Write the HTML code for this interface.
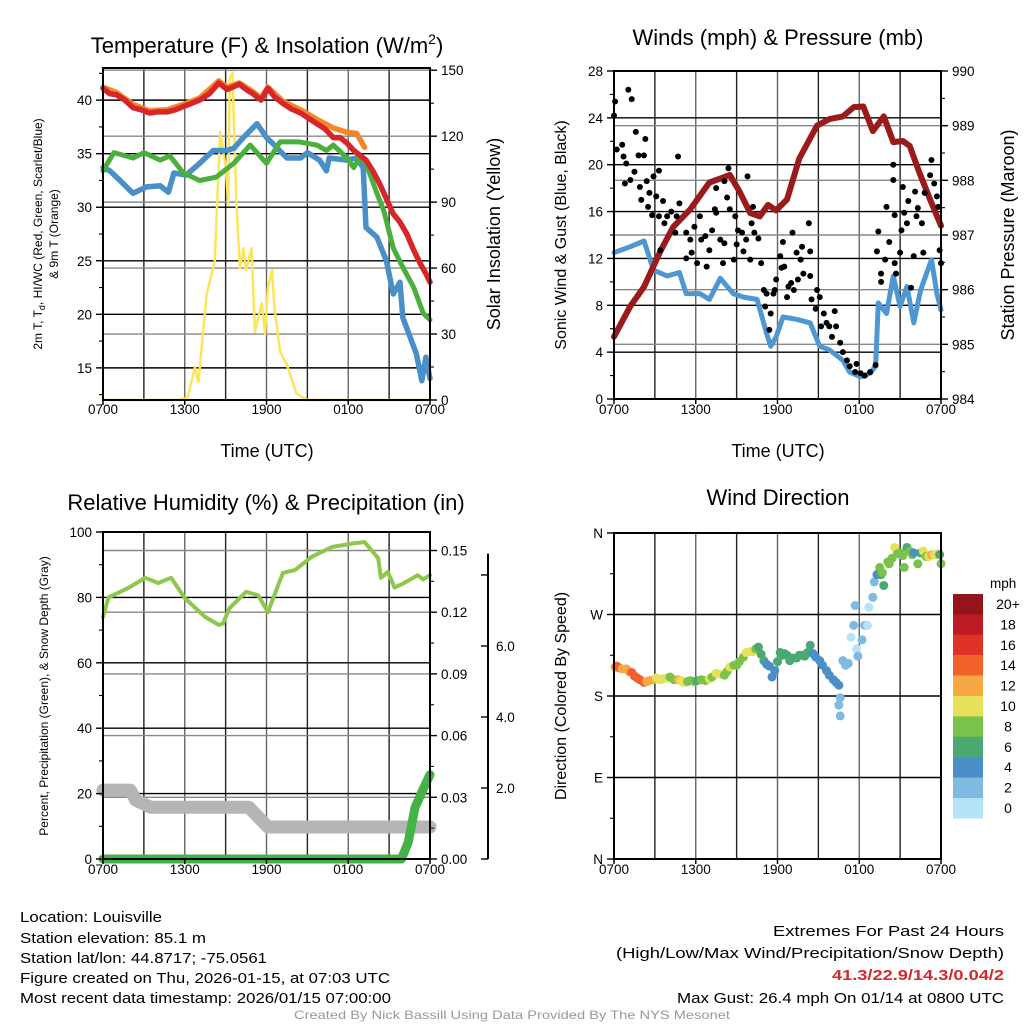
<!DOCTYPE html>
<html><head><meta charset="utf-8"><style>
html,body{margin:0;padding:0;background:#fff;}
svg{display:block;font-family:"Liberation Sans",Arial,sans-serif;}
</style></head><body>
<svg id="root" width="1024" height="1024" viewBox="0 0 1024 1024" xmlns="http://www.w3.org/2000/svg">
<rect x="0" y="0" width="1024" height="1024" fill="#fff"/>
<!-- Titles -->
<text x="267" y="53" font-size="22" text-anchor="middle">Temperature (F) &amp; Insolation (W/m<tspan dy="-9" font-size="14">2</tspan><tspan dy="9">)</tspan></text>
<text x="778" y="45" font-size="22" text-anchor="middle">Winds (mph) &amp; Pressure (mb)</text>
<text x="266" y="510" font-size="22" text-anchor="middle">Relative Humidity (%) &amp; Precipitation (in)</text>
<text x="778" y="505" font-size="22" text-anchor="middle">Wind Direction</text>
<!-- axis titles -->
<text x="267" y="457" font-size="18" text-anchor="middle">Time (UTC)</text>
<text x="778" y="457" font-size="18" text-anchor="middle">Time (UTC)</text>
<text transform="translate(42,234) rotate(-90)" font-size="12" text-anchor="middle">2m T, T<tspan dy="3" font-size="9">d</tspan><tspan dy="-3">, HI/WC (Red, Green, Scarlet/Blue)</tspan></text>
<text transform="translate(58,234) rotate(-90)" font-size="12" text-anchor="middle">&amp; 9m T (Orange)</text>
<text transform="translate(500,234) rotate(-90)" font-size="18" text-anchor="middle">Solar Insolation (Yellow)</text>
<text transform="translate(566,235) rotate(-90)" font-size="16" text-anchor="middle">Sonic Wind &amp; Gust (Blue, Black)</text>
<text transform="translate(1014,235) rotate(-90)" font-size="18" text-anchor="middle">Station Pressure (Maroon)</text>
<text transform="translate(48,696) rotate(-90)" font-size="12" text-anchor="middle">Percent, Precipitation (Green), &amp; Snow Depth (Gray)</text>
<text transform="translate(566,696) rotate(-90)" font-size="16" text-anchor="middle">Direction (Colored By Speed)</text>
<!-- bottom text -->
<g font-size="14.5">
<text x="20" y="922" textLength="142" lengthAdjust="spacingAndGlyphs">Location: Louisville</text>
<text x="20" y="943" textLength="186" lengthAdjust="spacingAndGlyphs">Station elevation: 85.1 m</text>
<text x="20" y="963" textLength="247" lengthAdjust="spacingAndGlyphs">Station lat/lon: 44.8717; -75.0561</text>
<text x="20" y="983" textLength="370" lengthAdjust="spacingAndGlyphs">Figure created on Thu, 2026-01-15, at 07:03 UTC</text>
<text x="20" y="1003" textLength="371" lengthAdjust="spacingAndGlyphs">Most recent data timestamp: 2026/01/15 07:00:00</text>
</g>
<g font-size="14.5" text-anchor="end">
<text x="1004" y="936" textLength="231" lengthAdjust="spacingAndGlyphs">Extremes For Past 24 Hours</text>
<text x="1004" y="958" textLength="388" lengthAdjust="spacingAndGlyphs">(High/Low/Max Wind/Precipitation/Snow Depth)</text>
<text x="1004" y="980" fill="#d42a2a" font-weight="bold" textLength="172" lengthAdjust="spacingAndGlyphs">41.3/22.9/14.3/0.04/2</text>
<text x="1004" y="1003" textLength="327" lengthAdjust="spacingAndGlyphs">Max Gust: 26.4 mph On 01/14 at 0800 UTC</text>
</g>
<text x="512" y="1019" font-size="12" fill="#999" text-anchor="middle" textLength="436" lengthAdjust="spacingAndGlyphs">Created By Nick Bassill Using Data Provided By The NYS Mesonet</text>
<g id="charts"></g>
</svg>
<script>
// ---------- data ----------
const xTickLabels = ["0700","1300","1900","0100","0700"];
const xTickHours = [0,6,12,18,24];
// temperature panel
const tempHour = [0,0.5,1,1.6,2.2,2.8,3.4,4,4.7,5.3,5.9,6.5,7.1,7.8,8.5,9.1,9.5,10,10.5,11,11.6,12.1,12.6,13.2,13.8,14.5,15.1,15.7,16.3,16.9,17.4,17.9,18.4,18.8,19.3,19.8,20.3,20.8,21.3,21.8,22.3,22.8,23.3,23.7,24];
const tempVal  = [41.1,40.6,40.5,40,39.3,39.1,38.8,38.9,38.9,39.1,39.4,39.7,40,40.6,41.6,41,41.2,41.5,41,40.6,40,41.1,40.3,39.7,39.2,38.8,38.3,37.8,37.3,36.5,36.5,36,35.3,34.9,34.4,33.4,32.2,30.8,29.4,28.6,27.5,26,24.7,23.8,23];
const t9Hour = [0,1,2.2,3.4,4.7,5.9,7.1,8.5,9.1,10,11,11.6,12.1,13.2,14.5,15.7,16.9,17.9,18.6,19.2];
const t9Val  = [41.2,40.7,39.6,39,39.1,39.6,40.2,41.8,41.2,41.6,40.8,40.2,41.2,39.9,39.1,38.2,37.4,37,36.9,35.6];
const dewHour = [0,0.8,2.2,3,4.2,4.9,5.9,7.1,8.3,9.6,10.8,12,13,14.4,15.7,16.4,16.9,17.9,18.4,18.8,19.3,20.1,20.6,21.3,22,22.8,23.5,24];
const dewVal  = [33.4,35.1,34.6,35.1,34.4,34.8,33.2,32.5,32.8,34.1,35.8,34.1,36.1,36.1,35.8,35.3,35.8,34.6,33.7,34.6,34.1,31.3,29.7,26.2,24.4,22.5,20.1,19.5];
const wcHour = [0,0.5,1.25,2.2,3.2,4.2,4.8,5.2,6.1,7.1,8.1,9.1,9.6,10.3,11.3,12,12.5,13.5,14.5,15,15.9,16.4,16.6,17.9,18.6,19.1,19.3,20.1,20.8,21.3,21.8,22,23,23.4,23.7,24];
const wcVal  = [33.7,33.4,32.5,31.3,31.9,32,31.4,33.2,33,34.1,35.3,35.3,35.5,36.5,37.8,36.5,35.9,34.6,34.6,35.1,34.4,33.4,34.6,34.4,34.6,33.7,28.1,27.2,25,21.9,23,19.7,16.3,13.8,16,14];
const solHour = [0,5.5,6.2,6.75,7,7.6,8.2,8.6,9,9.2,9.3,9.5,9.8,10.05,10.3,10.5,10.9,11.15,11.65,11.9,12.1,12.4,12.6,13,13.5,14.2,15,24];
const solVal  = [0,0,1,15,8,48,63,122,106,89,146,149,89,60,69,59,69,31,44,30,51,59,41,22,16,3,0,0];
// wind panel
const windHour = [0,1.2,2.2,2.9,3.9,4.8,5.3,6.3,7,7.8,8.75,9.5,10.5,11.2,11.5,11.9,12.4,13.4,14.4,15.1,15.8,16.8,17.3,18.1,18.8,19.2,19.4,20,20.5,21,21.5,22,22.5,23.3,23.7,24];
const windVal  = [12.5,13,13.5,11,10.5,10.8,9,9,8.5,10.3,9,8.7,8.5,5.6,4.5,5.3,7,6.8,6.5,4.5,4.2,3.3,2.3,1.9,2.2,2.8,8.2,7.3,10.5,7.9,9.6,6.5,9.3,11.9,9,7.6];
const gustHour = [0.08,0,1.05,1.3,1.6,2.3,0.2,0.6,0.7,0.9,0.8,1.2,1.8,2.2,1.5,1.9,2.4,2.9,3.3,2.6,2.0,2.5,3.1,2.8,3.6,3.3,3.7,4.2,3.9,4.7,4.8,4.5,4.6,3.4,5.3,5.6,5.9,6.3,6.1,5.7,5.3,6.4,7.0,6.8,6.7,7.4,7.5,7.2,7.8,8.1,8.0,8.3,8.4,7.5,8.1,8.5,8.9,8.8,9.1,9.4,9.0,9.5,9.7,9.8,10,10.2,10.1,10.3,10.6,10.8,11,11.2,11.1,11.5,11.7,11.4,11.8,11.9,12.2,12.3,12.4,12.5,12.7,12.8,13,13.1,13.2,13.4,13.5,13.7,13.8,13.9,14.3,14.4,14.4,14.5,14.9,15.1,14.8,15.4,15.6,15.2,15.8,16.2,16.3,16,16.6,16.8,17.1,17.3,17.7,18.1,18.4,18.8,19.2,17.8,19.4,19.3,19.6,19.6,19.9,20,20.2,20.5,20.5,20.6,20.6,20.7,21,21.1,21.2,21.3,21.5,21.6,21.8,22,22.1,22.2,22.3,22.6,22.7,22.8,23.2,23.3,23.5,23.7,23.8,23.9,24];
const gustVal  = [25.4,24.2,26.4,25.6,22.8,22.2,21.3,21.7,20.7,20.1,18.4,18.7,20.8,20.8,19.4,18.1,18.6,19,19.5,17.6,17,16.4,17.3,15.7,16.9,15.6,15,16,15.6,20.7,16.7,14.2,15.6,12.7,14.2,13.6,14.7,15.6,11.6,12.5,12,13.6,12.7,11.3,13.9,16.2,15.9,14.4,13.6,13.3,11.6,17.2,19.7,18,18.6,16.2,15.6,11.9,14.4,14.2,13.2,12.6,13.6,19,11.9,16.4,15,14.2,13.7,11.6,9.3,9,7.9,7.3,9,5.9,9.3,10.2,12.2,11.2,13.4,11.3,8.7,9.6,9.9,14.2,9.3,12.5,10.2,11.9,13,10.7,15,12.6,10.5,8.5,9.3,8.7,7.7,7.3,6.5,6.2,6.2,7.5,6.2,5.3,4.8,4,3.3,2.8,2.3,2.2,2,2.3,2.9,3,14.3,12.6,10.7,10,11.9,16.4,13.4,20,18.7,11.6,15.7,10.7,12.5,14.4,18.1,15.9,15,16.9,9.5,12.2,17.7,15.6,16.3,15,12.5,17.6,19.1,20.4,18.4,17.3,16.4,12.7,11.6];
const presHour = [0,1.2,2.2,3.4,4.35,5.6,7.0,8.0,8.5,9.2,10,10.7,11.3,11.9,12.7,13.6,14.9,15.8,16.8,17.6,18.3,19.0,19.8,20.5,21.2,21.7,22.4,23.2,24];
const presVal  = [985.14,985.7,986.05,986.7,987.15,987.47,987.96,988.05,988.1,987.8,987.4,987.34,987.55,987.45,987.65,988.4,989.0,989.12,989.17,989.34,989.35,988.9,989.17,988.7,988.72,988.63,988.15,987.65,987.17];
// humidity panel
const rhHour = [0,0.4,1.9,3.1,4.05,5,6,7.5,8.5,8.8,9.3,10.5,11.4,12.1,13.2,14.1,15.3,16.8,18.5,19.2,20.2,20.4,20.9,21.4,22.1,23.1,23.5,24];
const rhVal  = [74,80,83,86,84.4,86,79.8,74,71.6,72,76.8,81.7,80.6,75.5,87.5,88.4,92.4,95.4,96.6,96.9,92,86,87.8,83,84.4,86.8,85.5,86.8];
const snowHour = [0,2.0,2.4,3.5,4.3,10.7,12.1,24];
const snowVal  = [1.94,1.94,1.66,1.46,1.46,1.46,0.9,0.9];
const precipHour = [0,21.9,22.4,22.9,23.5,24];
const precipVal  = [0,0,0.008,0.025,0.034,0.041];
// wind direction panel
const dirHour = [0.08,0.2,0.4,0.6,0.9,1.1,1.3,1.5,1.7,1.9,2.2,2.4,2.6,2.9,3.1,3.4,3.6,3.9,4.1,4.4,4.7,4.9,5.1,5.4,5.6,5.9,6.1,6.4,6.7,7.0,7.2,7.5,7.8,8.1,8.3,8.5,8.8,9.0,9.2,9.5,9.7,10.0,10.2,10.4,10.6,10.8,11,11.2,11.4,11.6,11.8,12.0,12.2,12.4,12.5,12.7,12.9,13.1,13.4,13.6,13.8,14.0,14.2,14.4,14.6,14.8,15.1,15.3,15.6,15.8,16.1,16.3,16.5,16.6,16.5,16.6,16.8,17.0,17.2,17.4,17.6,17.8,17.9,18.2,18.4,18.6,18.7,19.0,17.7,19.1,19.3,19.5,19.6,19.8,19.5,19.7,20.1,20.2,20.4,20.6,20.8,21,21.2,21.3,21.5,21.7,21.9,22,22.3,22.5,22.7,22.9,23.1,23.3,23.5,23.7,23.9,24];
const dirVal  = [212,213,211,210,210,207,206,202,200,198,195,196,197,198,200,198,199,200,201,198,198,197,195,196,197,196,197,198,197,199,201,205,204,203,207,212,214,214,218,223,228,229,229,232,234,226,219,215,213,201,208,218,228,225,227,225,219,222,222,225,225,224,228,236,227,223,219,214,208,203,198,195,192,178,170,158,219,214,216,245,258,232,224,242,258,258,278,289,280,306,314,318,314,302,322,316,328,326,332,344,337,338,335,322,344,340,336,338,326,338,340,334,334,336,336,337,336,326,331];
const dirSpd  = [13,14,14,12,12,13,14,14,14,14,15,13,12,12,11,10,10,10,9,9,12,10,10,9,8,8,7,8,8,10,9,10,10,8,9,10,9,9,8,8,10,10,10,8,6,6,6,4,4,4,4,6,6,6,7,6,6,6,6,6,6,6,6,6,5,4,4,4,4,4,4,4,4,3,2,2,2,2,2,1,2,1,2,3,2,0,0,2,2,2,4,4,6,6,8,8,8,8,8,10,8,8,8,8,6,8,8,4,8,6,10,8,10,13,10,10,6,8];
const spdLabels = ["20+","18","16","14","12","10","8","6","4","2","0"];
const spdColors = ["#931519","#bd1c24","#de3229","#f0622a","#f7a844","#e6e05a","#7ac24a","#4aa873","#4a8fc7","#7fbae3","#b5e3f7"];

// ---------- helpers ----------
const NS="http://www.w3.org/2000/svg";
const root=document.getElementById('charts');
function mk(tag,attrs,parent){const e=document.createElementNS(NS,tag);for(const k in attrs)e.setAttribute(k,attrs[k]);(parent||root).appendChild(e);return e;}
function scale(d0,d1,p0,p1){return v=>p0+(v-d0)*(p1-p0)/(d1-d0);}
function pathD(xs,ys,sx,sy){return xs.map((h,i)=>(i?'L':'M')+sx(h).toFixed(1)+','+sy(ys[i]).toFixed(1)).join('');}

function frame(px0,px1,py0,py1,name,hGrid,sx){
  const g=mk('g',{});
  
  
  for(let h=3;h<24;h+=3){
    const l=mk('line',{x1:sx(h),x2:sx(h),y1:py0,y2:py1,stroke:(h%6==0)?'#666':'#222','stroke-width':1.4},g);
    
    
  }
  hGrid.forEach(y=>{
    const l=mk('line',{x1:px0,x2:px1,y1:y[0],y2:y[0],stroke:y[1],'stroke-width':1.4},g);
    
    
  });
  return g;
}
function border(px0,px1,py0,py1,name,sx,tickY){
  const r=mk('rect',{x:px0,y:py0,width:px1-px0,height:py1-py0,fill:'none',stroke:'#000','stroke-width':2});
  
  
  xTickHours.forEach((h,i)=>{
    const t=mk('line',{x1:sx(h),x2:sx(h),y1:py1,y2:py1+5,stroke:'#000','stroke-width':1.5});
    
    
    const tx=mk('text',{x:sx(h),y:tickY,'font-size':13.5,'text-anchor':'middle'});
    tx.textContent=xTickLabels[i];
    
    
  });
}
function yAxis(x,sy,majors,labels,minors,side,fs){
  const dir=side==='left'?-1:1;
  majors.forEach((v,i)=>{
    const t=mk('line',{x1:x,x2:x+dir*7,y1:sy(v),y2:sy(v),stroke:'#000','stroke-width':1.4});
    
    
    if(labels[i]!==''){
      const tx=mk('text',{x:x+dir*11,y:sy(v)+5,'font-size':fs||13.5,'text-anchor':side==='left'?'end':'start'});
      tx.textContent=labels[i];
      
      
    }
  });
  minors.forEach(v=>{
    const t=mk('line',{x1:x,x2:x+dir*4,y1:sy(v),y2:sy(v),stroke:'#000','stroke-width':1.1});
    
    
  });
}
function range(a,b,s){const r=[];for(let v=a;v<=b+1e-9;v+=s)r.push(+v.toFixed(4));return r;}
function line(xs,ys,sx,sy,color,w,name,g){
  const p=mk('path',{d:pathD(xs,ys,sx,sy),fill:'none',stroke:color,'stroke-width':w,'stroke-linejoin':'round','stroke-linecap':'round'},g);
  
  
  return p;
}

// ---------- Panel 1: temperature ----------
(function(){
  const sx=scale(0,24,103,430), sy=scale(12,43,400,68), sr=scale(0,151,400,68);
  const grid=range(15,40,5).map(v=>[sy(v),'#000']).concat(range(30,150,30).map(v=>[sr(v),'#888']));
  const g=frame(103,430,68,400,'temperature',grid,sx);
  line(solHour,solVal,sx,sr,'#fde55a',2.5,'insolation-line',g);
  line(wcHour,wcVal,sx,sy,'#4a8fc7',5.5,'windchill-line',g);
  line(dewHour,dewVal,sx,sy,'#4aaf3c',5,'dewpoint-line',g);
  line(t9Hour,t9Val,sx,sy,'#f5862a',5.5,'temperature-9m-line',g);
  line(tempHour,tempVal,sx,sy,'#d7262a',5.5,'temperature-2m-line',g);
  border(103,430,68,400,'temperature',sx,414);
  yAxis(103,sy,range(15,40,5),range(15,40,5).map(String),range(12.5,42.5,5),'left');
  yAxis(430,sr,range(0,150,30),range(0,150,30).map(String),range(15,135,30),'right');
})();

// ---------- Panel 2: wind ----------
(function(){
  const sx=scale(0,24,614,941), sy=scale(0,28,399,71), sp=scale(984,990,399,71);
  const grid=range(4,24,4).map(v=>[sy(v),'#000']).concat(range(985,989,1).map(v=>[sp(v),'#888']));
  const g=frame(614,941,71,399,'wind',grid,sx);
  line(windHour,windVal,sx,sy,'#4f97d3',5,'sonic-wind-line',g);
  line(presHour,presVal,sx,sp,'#9b1a1c',6,'pressure-line',g);
  gustHour.forEach((h,i)=>{
    const c=mk('circle',{cx:sx(h),cy:sy(gustVal[i]),r:3,fill:'#000'},g);
    
    
  });
  border(614,941,71,399,'wind',sx,414);
  yAxis(614,sy,range(0,28,4),range(0,28,4).map(String),range(2,26,4),'left');
  yAxis(941,sp,range(984,990,1),range(984,990,1).map(String),range(984.5,989.5,1),'right');
})();

// ---------- Panel 3: humidity ----------
(function(){
  const sx=scale(0,24,103,430), sy=scale(0,100,859,532), sp=scale(0,0.159,859,532), ss=scale(0,9.21,859,532);
  const grid=range(20,100,20).map(v=>[sy(v),'#000']).concat(range(0.03,0.15,0.03).map(v=>[sp(v),'#888']));
  const g=frame(103,430,532,859,'humidity',grid,sx);
  line(rhHour,rhVal,sx,sy,'#8dc84a',4,'relative-humidity-line',g);
  line(snowHour,snowVal,sx,ss,'#b5b5b5',13,'snow-depth-line',g);
  line(precipHour,precipVal,sx,sp,'#45b245',9,'precipitation-line',g);
  border(103,430,532,859,'humidity',sx,874);
  yAxis(103,sy,range(0,100,20),range(0,100,20).map(String),range(10,90,20),'left');
  const pm=range(0,0.15,0.03);
  yAxis(430,sp,pm,pm.map(v=>v.toFixed(2)),range(0.015,0.15,0.03),'right');
  const ax=mk('line',{x1:488,x2:488,y1:ss(0),y2:ss(8.6),stroke:'#000','stroke-width':2});
  
  
  [0,2,4,6,8].forEach(v=>{
    const t=mk('line',{x1:481,x2:488,y1:ss(v),y2:ss(v),stroke:'#000','stroke-width':1.4});
    
    
    if(v>0&&v<8){const tx=mk('text',{x:496,y:ss(v)+5,'font-size':13.5});tx.textContent=v.toFixed(1);
      
      }
  });
})();

// ---------- Panel 4: wind direction ----------
(function(){
  const sx=scale(0,24,614,941), sy=scale(0,360,859,533);
  const dirLabels=["N","E","S","W","N"], dirTicks=[0,90,180,270,360];
  const grid=[90,180,270].map(v=>[sy(v),'#000']);
  const g=frame(614,941,533,859,'wind-direction',grid,sx);
  dirHour.forEach((h,i)=>{
    const idx=Math.max(0,Math.min(10,10-Math.floor(dirSpd[i]/2)));
    const c=mk('circle',{cx:sx(h),cy:sy(dirVal[i]),r:4.5,fill:spdColors[idx]},g);
    
    
  });
  border(614,941,533,859,'wind-direction',sx,874);
  yAxis(614,sy,dirTicks,dirLabels,[45,135,225,315],'left');
  const leg=mk('g',{});
  
  
  const t=mk('text',{x:990,y:588,'font-size':13.5},leg);t.textContent='mph';
  
  
  spdLabels.forEach((lab,i)=>{
    const y=594+i*20.4;
    const r=mk('rect',{x:953,y:y,width:30,height:20.6,fill:spdColors[i]},leg);
    
    
    const tx=mk('text',{x:1008,y:y+15,'font-size':14,'text-anchor':'middle'},leg);tx.textContent=lab;
    
    
  });
})();
</script>
</body></html>
